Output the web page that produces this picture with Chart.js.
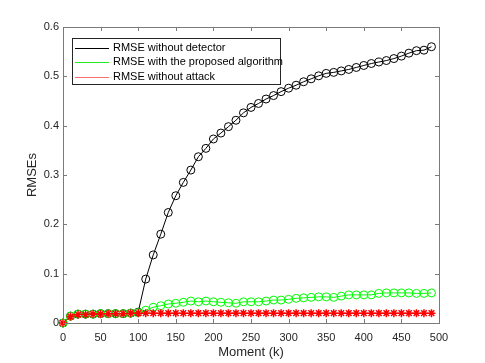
<!DOCTYPE html>
<html>
<head>
<meta charset="utf-8">
<script src="https://cdn.jsdelivr.net/npm/chart.js@4/dist/chart.umd.min.js"></script>
<style>
  html, body { margin: 0; padding: 0; background: #fff; }
  #wrap { width: 485px; height: 363px; }
</style>
</head>
<body>
<div id="wrap"><canvas id="rmseChart" width="485" height="363"></canvas></div>
<script>
// moments k (a marker every 10 steps)
var moments = [0,10,20,30,40,50,60,70,80,90,100,110,120,130,140,150,160,170,180,190,
  200,210,220,230,240,250,260,270,280,290,300,310,320,330,340,350,360,370,380,390,
  400,410,420,430,440,450,460,470,480,490];

var rmseNoDetector = [0,0.014,0.018,0.018,0.018,0.019,0.019,0.019,0.019,0.020,
  0.022,0.089,0.138,0.180,0.224,0.258,0.285,0.310,0.337,0.354,
  0.373,0.385,0.398,0.411,0.426,0.437,0.445,0.454,0.461,0.469,
  0.476,0.482,0.489,0.495,0.501,0.506,0.508,0.511,0.514,0.518,
  0.522,0.526,0.529,0.532,0.536,0.541,0.547,0.552,0.553,0.560];

var rmseProposed = [0,0.014,0.018,0.018,0.018,0.019,0.019,0.019,0.019,0.020,
  0.021,0.026,0.032,0.035,0.0385,0.040,0.042,0.0445,0.043,0.0445,
  0.043,0.042,0.041,0.040,0.043,0.043,0.043,0.0445,0.0465,0.0465,
  0.048,0.050,0.051,0.052,0.053,0.053,0.052,0.0545,0.057,0.057,
  0.057,0.057,0.060,0.061,0.061,0.061,0.061,0.060,0.060,0.061];

var rmseNoAttack = [0,0.013,0.017,0.017,0.018,0.018,0.019,0.019,0.019,0.020,
  0.020,0.020,0.020,0.020,0.020,0.020,0.020,0.020,0.020,0.020,
  0.020,0.020,0.020,0.020,0.020,0.020,0.020,0.020,0.020,0.020,
  0.020,0.020,0.020,0.020,0.020,0.020,0.020,0.020,0.020,0.020,
  0.020,0.020,0.020,0.020,0.020,0.020,0.020,0.020,0.020,0.020];

var seriesLabels = ['RMSE without detector', 'RMSE with the proposed algorithm', 'RMSE without attack'];
var seriesColors = ['#000000', '#00ff00', '#ff0000'];
var legendLineColors = ['#000000', '#22ee22', '#ff6f6f'];

var toPoints = function(ys){
  var pts = [];
  for(var i = 0; i < moments.length; i++){
    pts.push({x: moments[i], y: ys[i]});
  }
  return pts;
};

Chart.defaults.font.family = '"Liberation Sans", Arial, Helvetica, sans-serif';
Chart.defaults.color = '#262626';

// MATLAB-like box, inward ticks and boxed legend
var matlabAxes = {
  id: 'matlabAxes',
  afterDraw: function(chart){
    var ctx = chart.ctx;
    var a = chart.chartArea;
    var xs = chart.scales.x;
    var ys = chart.scales.y;
    var tl = 4;
    ctx.save();
    ctx.strokeStyle = '#7a7a7a';
    ctx.lineWidth = 1;
    ctx.strokeRect(Math.round(a.left) + 0.5, Math.round(a.top) + 0.5,
      Math.round(a.right - a.left), Math.round(a.bottom - a.top));
    ctx.beginPath();
    xs.ticks.forEach(function(t){
      var px = Math.round(xs.getPixelForValue(t.value)) + 0.5;
      ctx.moveTo(px, a.bottom); ctx.lineTo(px, a.bottom - tl);
      ctx.moveTo(px, a.top); ctx.lineTo(px, a.top + tl);
    });
    ys.ticks.forEach(function(t){
      var py = Math.round(ys.getPixelForValue(t.value)) + 0.5;
      ctx.moveTo(a.left, py); ctx.lineTo(a.left + tl, py);
      ctx.moveTo(a.right, py); ctx.lineTo(a.right - tl, py);
    });
    ctx.stroke();

    // legend
    var lx = 72.5, ly = 38.5, lw = 208, lh = 46;
    ctx.fillStyle = '#ffffff';
    ctx.fillRect(lx, ly, lw, lh);
    ctx.strokeStyle = '#262626';
    ctx.strokeRect(lx, ly, lw, lh);
    var rows = [47.5, 62, 76.5];
    ctx.font = '11px "Liberation Sans", Arial, sans-serif';
    ctx.textBaseline = 'middle';
    ctx.textAlign = 'left';
    for(var i = 0; i < seriesLabels.length; i++){
      ctx.strokeStyle = legendLineColors[i];
      ctx.beginPath();
      ctx.moveTo(75, Math.round(rows[i]) + 0.5);
      ctx.lineTo(109, Math.round(rows[i]) + 0.5);
      ctx.stroke();
      ctx.fillStyle = '#000000';
      ctx.fillText(seriesLabels[i], 113, rows[i]);
    }
    ctx.restore();
  }
};

var ctx = document.getElementById('rmseChart').getContext('2d');
var rmseChart = new Chart(ctx, {
  type: 'line',
  data: {
    datasets: [
      {
        label: seriesLabels[0],
        data: toPoints(rmseNoDetector),
        borderColor: seriesColors[0],
        borderWidth: 1,
        pointStyle: 'circle',
        pointRadius: 4,
        pointBorderWidth: 1,
        pointBorderColor: seriesColors[0],
        pointBackgroundColor: 'rgba(0,0,0,0)',
        tension: 0,
        clip: false,
        order: 3
      },
      {
        label: seriesLabels[1],
        data: toPoints(rmseProposed),
        borderColor: seriesColors[1],
        borderWidth: 1,
        pointStyle: 'circle',
        pointRadius: 4,
        pointBorderWidth: 1,
        pointBorderColor: seriesColors[1],
        pointBackgroundColor: 'rgba(0,0,0,0)',
        tension: 0,
        clip: false,
        order: 2
      },
      {
        label: seriesLabels[2],
        data: toPoints(rmseNoAttack),
        borderColor: 'rgba(255,0,0,0.6)',
        borderWidth: 1,
        pointStyle: 'star',
        pointRadius: 4,
        pointBorderWidth: 1.5,
        pointBorderColor: seriesColors[2],
        pointBackgroundColor: seriesColors[2],
        tension: 0,
        clip: false,
        order: 1
      }
    ]
  },
  options: {
    responsive: false,
    animation: false,
    devicePixelRatio: 1,
    layout: {padding: {left: 0, top: 27, right: 46, bottom: 0}},
    plugins: {legend: {display: false}, tooltip: {enabled: false}},
    scales: {
      x: {
        type: 'linear',
        min: 0,
        max: 500,
        ticks: {stepSize: 50, font: {size: 11}, color: '#262626', padding: 8, maxRotation: 0},
        grid: {display: false, drawTicks: false},
        border: {display: false},
        title: {display: true, text: 'Moment (k)', font: {size: 13}, color: '#262626', padding: {top: 0, bottom: 3}},
        afterFit: function(scale){ scale.height = 40; }
      },
      y: {
        type: 'linear',
        min: 0,
        max: 0.6,
        ticks: {stepSize: 0.1, font: {size: 11}, color: '#262626', padding: 4},
        grid: {display: false, drawTicks: false},
        border: {display: false},
        title: {display: true, text: 'RMSEs', font: {size: 13}, color: '#262626', padding: {top: 25, bottom: 0}},
        afterFit: function(scale){ scale.width = 63; }
      }
    }
  },
  plugins: [matlabAxes]
});
</script>
</body>
</html>
